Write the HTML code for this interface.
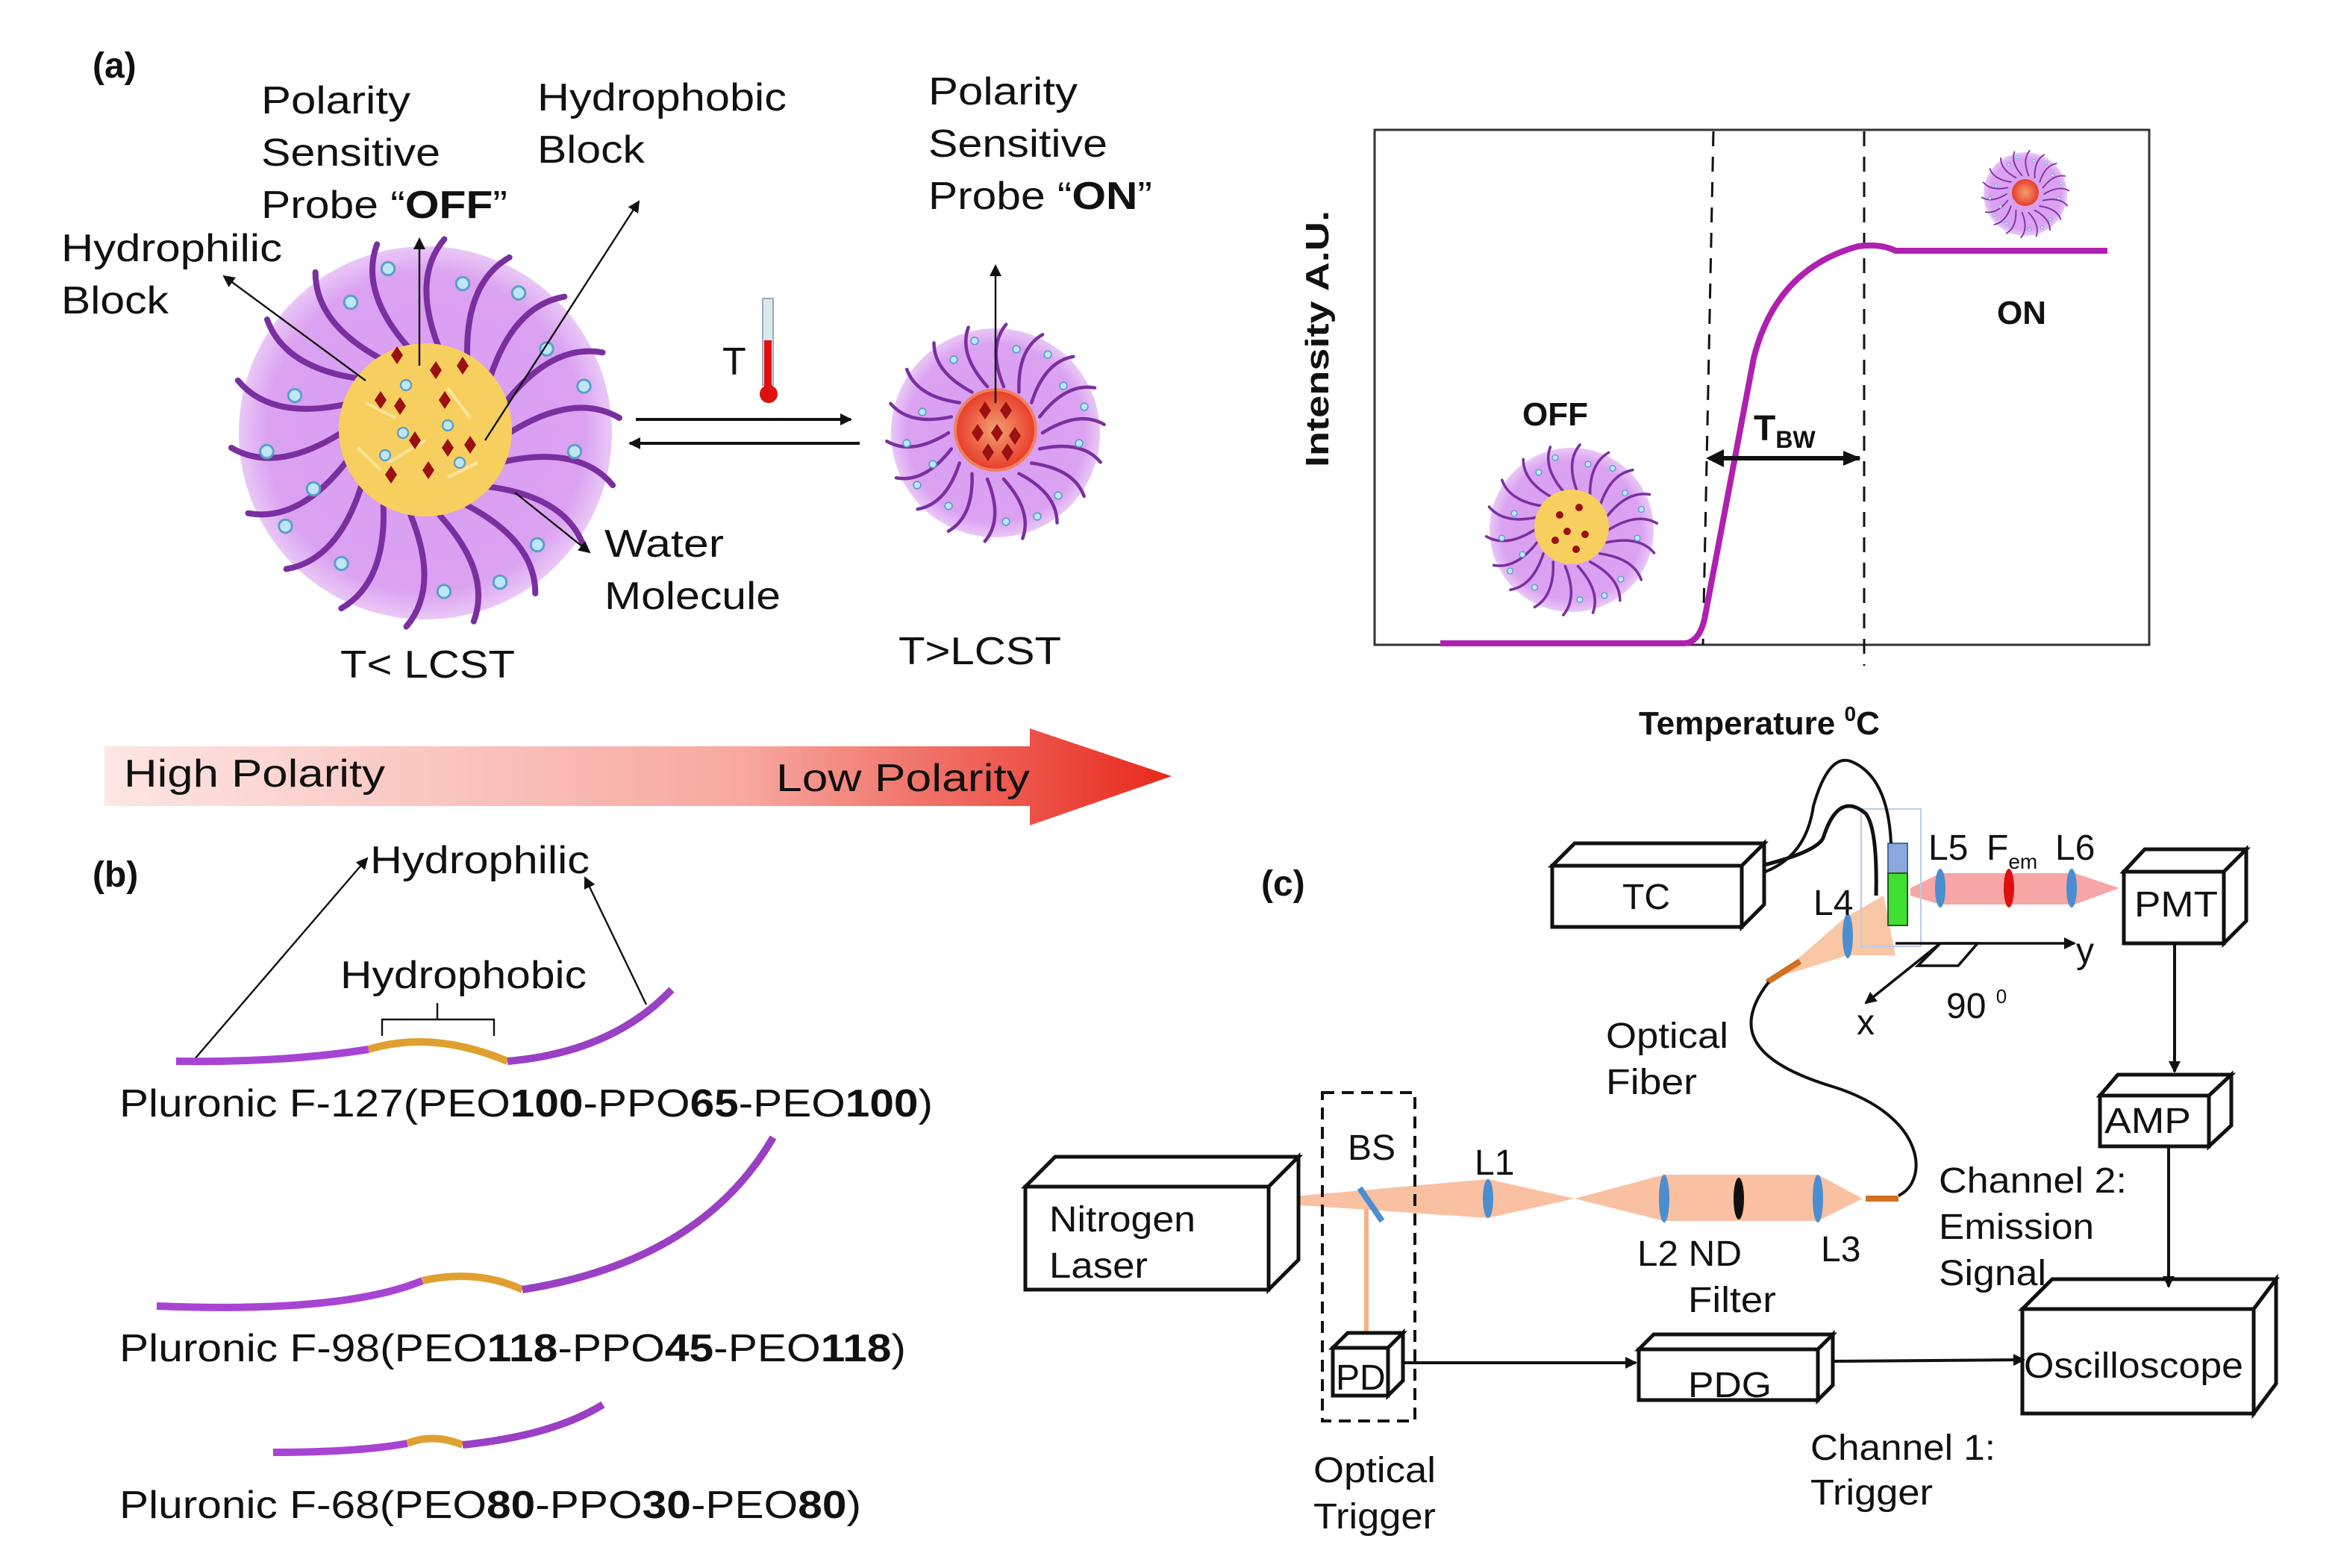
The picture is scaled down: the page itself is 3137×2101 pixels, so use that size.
<!DOCTYPE html>
<html><head><meta charset="utf-8"><style>
html,body{margin:0;padding:0;background:#fff}
svg{display:block}
text{font-family:"Liberation Sans",sans-serif;fill:#111}
</style></head><body>
<svg width="3137" height="2101" viewBox="0 0 1568.5 1050.5" xmlns="http://www.w3.org/2000/svg">
<defs>
<radialGradient id="pk"><stop offset="0" stop-color="#d99cf0"/><stop offset="0.85" stop-color="#dba2f2"/><stop offset="1" stop-color="#e9c8f6"/></radialGradient>
<radialGradient id="rc"><stop offset="0" stop-color="#f3a070"/><stop offset="1" stop-color="#e83c2a"/></radialGradient>
<linearGradient id="gr" x1="0" x2="1"><stop offset="0" stop-color="#fde6e4"/><stop offset="0.6" stop-color="#f7a8a0"/><stop offset="1" stop-color="#e8281c"/></linearGradient>
<marker id="ah" markerWidth="8" markerHeight="8" refX="7" refY="4" orient="auto" markerUnits="userSpaceOnUse"><path d="M0,0 L8,4 L0,8z" fill="#111"/></marker>
<marker id="ah2" markerWidth="12" markerHeight="10" refX="11" refY="5" orient="auto" markerUnits="userSpaceOnUse"><path d="M0,0 L12,5 L0,10z" fill="#111"/></marker>
<path id="st" d="M45,0 Q80,-22 104,-8" fill="none" stroke="#7a2fa0" stroke-width="3.2" stroke-linecap="round"/>
<g id="mic">
<circle r="100" fill="url(#pk)"/>
<g>
<use href="#st"/><use href="#st" transform="rotate(20)"/><use href="#st" transform="rotate(40)"/><use href="#st" transform="rotate(60)"/><use href="#st" transform="rotate(80)"/><use href="#st" transform="rotate(100)"/><use href="#st" transform="rotate(120)"/><use href="#st" transform="rotate(140)"/><use href="#st" transform="rotate(160)"/><use href="#st" transform="rotate(180)"/><use href="#st" transform="rotate(200)"/><use href="#st" transform="rotate(220)"/><use href="#st" transform="rotate(240)"/><use href="#st" transform="rotate(260)"/><use href="#st" transform="rotate(280)"/><use href="#st" transform="rotate(300)"/><use href="#st" transform="rotate(320)"/><use href="#st" transform="rotate(340)"/>
</g>
<g fill="#bfe6f5" stroke="#5aa0c8" stroke-width="1.2">
<circle cx="-70" cy="-20" r="3.5"/><circle cx="-60" cy="30" r="3.5"/><circle cx="-40" cy="-70" r="3.5"/><circle cx="20" cy="-80" r="3.5"/><circle cx="65" cy="-45" r="3.5"/><circle cx="80" cy="10" r="3.5"/><circle cx="60" cy="60" r="3.5"/><circle cx="10" cy="85" r="3.5"/><circle cx="-45" cy="70" r="3.5"/><circle cx="-85" cy="10" r="3.5"/><circle cx="-20" cy="-88" r="3.5"/><circle cx="40" cy="80" r="3.5"/><circle cx="-75" cy="50" r="3.5"/><circle cx="85" cy="-25" r="3.5"/><circle cx="50" cy="-75" r="3.5"/>
</g>
</g>
<g id="dia" fill="#9b1010"><path d="M0,-6 L4,0 L0,6 L-4,0z"/></g>
</defs>

<!-- (a) -->
<text x="62" y="52" font-size="24" font-weight="bold">(a)</text>
<g transform="translate(285,290) scale(1.25)"><use href="#mic"/></g>
<circle cx="285" cy="288" r="58" fill="#f7cf5e"/>
<g stroke="#fbe49a" stroke-width="2" fill="none"><path d="M245,270 l20,10 M260,310 l25,-15 M300,260 l15,20 M300,320 l20,-10 M240,300 l15,15"/></g>
<g fill="#bfe6f5" stroke="#5aa0c8" stroke-width="1.2"><circle cx="272" cy="258" r="3.5"/><circle cx="300" cy="285" r="3.5"/><circle cx="258" cy="305" r="3.5"/><circle cx="308" cy="310" r="3.5"/><circle cx="270" cy="290" r="3.5"/></g>
<g><use href="#dia" x="266" y="238"/><use href="#dia" x="292" y="248"/><use href="#dia" x="310" y="245"/><use href="#dia" x="255" y="268"/><use href="#dia" x="268" y="272"/><use href="#dia" x="298" y="268"/><use href="#dia" x="278" y="295"/><use href="#dia" x="300" y="300"/><use href="#dia" x="315" y="298"/><use href="#dia" x="262" y="318"/><use href="#dia" x="287" y="315"/></g>

<g transform="translate(667,290) scale(0.7)"><use href="#mic"/></g>
<circle cx="667" cy="288" r="27" fill="url(#rc)" stroke="#f08060" stroke-width="2"/>
<g><use href="#dia" x="660" y="275"/><use href="#dia" x="674" y="275"/><use href="#dia" x="655" y="290"/><use href="#dia" x="668" y="290"/><use href="#dia" x="680" y="292"/><use href="#dia" x="662" y="303"/><use href="#dia" x="675" y="303"/></g>

<g font-size="26">
<text x="175" y="76" textLength="100" lengthAdjust="spacingAndGlyphs">Polarity</text>
<text x="175" y="111" textLength="120" lengthAdjust="spacingAndGlyphs">Sensitive</text>
<text x="175" y="146" textLength="165" lengthAdjust="spacingAndGlyphs">Probe “<tspan font-weight="bold">OFF</tspan>”</text>
<text x="360" y="74" textLength="167" lengthAdjust="spacingAndGlyphs">Hydrophobic</text>
<text x="360" y="109" textLength="72" lengthAdjust="spacingAndGlyphs">Block</text>
<text x="41" y="175" textLength="148" lengthAdjust="spacingAndGlyphs">Hydrophilic</text>
<text x="41" y="210" textLength="72" lengthAdjust="spacingAndGlyphs">Block</text>
<text x="622" y="70" textLength="100" lengthAdjust="spacingAndGlyphs">Polarity</text>
<text x="622" y="105" textLength="120" lengthAdjust="spacingAndGlyphs">Sensitive</text>
<text x="622" y="140" textLength="150" lengthAdjust="spacingAndGlyphs">Probe “<tspan font-weight="bold">ON</tspan>”</text>
<text x="405" y="373" textLength="80" lengthAdjust="spacingAndGlyphs">Water</text>
<text x="405" y="408" textLength="118" lengthAdjust="spacingAndGlyphs">Molecule</text>
<text x="228" y="454" textLength="117" lengthAdjust="spacingAndGlyphs">T&lt; LCST</text>
<text x="602" y="445" textLength="109" lengthAdjust="spacingAndGlyphs">T&gt;LCST</text>
<text x="484" y="251">T</text>
</g>
<g stroke="#111" stroke-width="1.2" fill="none" marker-end="url(#ah)">
<line x1="281" y1="245" x2="281" y2="160"/>
<line x1="325" y1="295" x2="428" y2="135"/>
<line x1="245" y1="255" x2="150" y2="185"/>
<line x1="345" y1="330" x2="395" y2="370"/>
<line x1="667" y1="270" x2="667" y2="178"/>
</g>
<rect x="511" y="200" width="7" height="58" fill="#dce8f0" stroke="#9ab" stroke-width="1"/>
<rect x="512" y="228" width="5" height="32" fill="#e01010"/>
<circle cx="515" cy="264" r="6" fill="#e01010"/>
<g stroke="#111" stroke-width="2" fill="none">
<line x1="426" y1="281" x2="570" y2="281" marker-end="url(#ah)"/>
<line x1="576" y1="297" x2="422" y2="297" marker-end="url(#ah)"/>
</g>

<path d="M70,500 L690,500 L690,488 L785,520 L690,553 L690,540 L70,540z" fill="url(#gr)"/>
<text x="83" y="527" font-size="26" textLength="175" lengthAdjust="spacingAndGlyphs">High  Polarity</text>
<text x="520" y="530" font-size="26" textLength="170" lengthAdjust="spacingAndGlyphs">Low  Polarity</text>

<rect x="921" y="87" width="519" height="345" fill="none" stroke="#333" stroke-width="1.5"/>
<g stroke="#111" stroke-width="1.5" stroke-dasharray="10,7"><line x1="1148" y1="88" x2="1141" y2="432"/><line x1="1249" y1="88" x2="1249" y2="446"/></g>
<path d="M965,431 L1128,431 Q1138,431 1142,415 Q1158,330 1175,240 Q1190,180 1245,165 Q1260,163 1270,168 L1412,168" fill="none" stroke="#b020b0" stroke-width="4"/>
<line x1="1146" y1="307" x2="1246" y2="307" stroke="#111" stroke-width="3" marker-end="url(#ah2)"/>
<path d="M1143,307 l12,-6 v12z" fill="#111"/>
<text x="1175" y="295" font-size="24" font-weight="bold">T<tspan font-size="16" dy="5">BW</tspan></text>
<text x="1020" y="285" font-size="22" font-weight="bold">OFF</text>
<text x="1338" y="217" font-size="22" font-weight="bold">ON</text>
<text transform="translate(890,313) rotate(-90)" font-size="22" font-weight="bold" textLength="172" lengthAdjust="spacingAndGlyphs">Intensity  A.U.</text>
<text x="1098" y="492" font-size="22" font-weight="bold">Temperature <tspan font-size="14" dy="-9">0</tspan><tspan dy="9">C</tspan></text>
<g transform="translate(1053,355) scale(0.55)"><use href="#mic"/></g>
<circle cx="1053" cy="353" r="25" fill="#f7cf5e"/>
<g fill="#9b1010"><circle cx="1045" cy="345" r="2.5"/><circle cx="1058" cy="340" r="2.5"/><circle cx="1050" cy="356" r="2.5"/><circle cx="1062" cy="358" r="2.5"/><circle cx="1042" cy="362" r="2.5"/><circle cx="1056" cy="368" r="2.5"/></g>
<g transform="translate(1357,130) scale(0.28)"><use href="#mic"/></g>
<circle cx="1357" cy="129" r="9" fill="url(#rc)"/>

<text x="62" y="594" font-size="24" font-weight="bold">(b)</text>
<text x="248" y="585" font-size="26" textLength="147" lengthAdjust="spacingAndGlyphs">Hydrophilic</text>
<text x="228" y="662" font-size="26" textLength="165" lengthAdjust="spacingAndGlyphs">Hydrophobic</text>
<g stroke="#111" stroke-width="1.2" fill="none" marker-end="url(#ah)">
<line x1="130" y1="710" x2="246" y2="575"/>
<line x1="433" y1="673" x2="392" y2="588"/>
</g>
<path d="M256,694 L256,683 L331,683 L331,694 M293,683 L293,672" fill="none" stroke="#111" stroke-width="1.2"/>
<g fill="none" stroke-width="5" stroke-linecap="butt">
<path d="M118,711 Q190,712 247,703" stroke="#a844d4"/>
<path d="M247,703 Q290,690 340,711" stroke="#e0a030"/>
<path d="M340,711 Q410,705 450,663" stroke="#9a40c4"/>
<path d="M105,875 Q230,880 283,858" stroke="#a844d4"/>
<path d="M283,858 Q320,850 350,864" stroke="#e0a030"/>
<path d="M350,864 Q470,845 518,762" stroke="#9a40c4"/>
<path d="M183,973 Q240,973 273,967" stroke="#a844d4"/>
<path d="M273,967 Q290,960 310,968" stroke="#e0a030"/>
<path d="M310,968 Q370,962 404,941" stroke="#9a40c4"/>
</g>
<g font-size="26">
<text x="80" y="748" textLength="545" lengthAdjust="spacingAndGlyphs">Pluronic F-127(PEO<tspan font-weight="bold">100</tspan>-PPO<tspan font-weight="bold">65</tspan>-PEO<tspan font-weight="bold">100</tspan>)</text>
<text x="80" y="912" textLength="527" lengthAdjust="spacingAndGlyphs">Pluronic F-98(PEO<tspan font-weight="bold">118</tspan>-PPO<tspan font-weight="bold">45</tspan>-PEO<tspan font-weight="bold">118</tspan>)</text>
<text x="80" y="1017" textLength="497" lengthAdjust="spacingAndGlyphs">Pluronic F-68(PEO<tspan font-weight="bold">80</tspan>-PPO<tspan font-weight="bold">30</tspan>-PEO<tspan font-weight="bold">80</tspan>)</text>
</g>

<text x="845" y="600" font-size="24" font-weight="bold">(c)</text>
<path d="M850,803 L997,790 L1055,803 L997,816 L850,806z" fill="#f7b08a" opacity="0.8"/>
<path d="M1055,803 L1115,787 L1218,787 L1248,803 L1218,818 L1115,818z" fill="#f7b08a" opacity="0.8"/>
<rect x="914" y="810" width="3" height="95" fill="#f7b08a"/>
<path d="M1190,655 L1236,615 L1262,600 L1270,640 L1238,640z" fill="#f7b890" opacity="0.8"/>
<path d="M1280,595 L1300,585 L1390,585 L1420,595 L1390,606 L1300,606 L1280,600z" fill="#f48888" opacity="0.75"/>
<g fill="#4a8ecf"><ellipse cx="997" cy="803" rx="3.5" ry="13"/><ellipse cx="1115" cy="803" rx="3.5" ry="16"/><ellipse cx="1218" cy="803" rx="3.5" ry="16"/><ellipse cx="1238" cy="627" rx="3.5" ry="15"/><ellipse cx="1300" cy="595" rx="3.5" ry="13"/><ellipse cx="1388" cy="595" rx="3.5" ry="13"/></g>
<ellipse cx="1165" cy="803" rx="3.5" ry="14" fill="#111"/>
<ellipse cx="1346" cy="595" rx="3.5" ry="13" fill="#e01010"/>
<line x1="911" y1="796" x2="926" y2="818" stroke="#4a8ecf" stroke-width="4"/>
<line x1="1250" y1="803" x2="1272" y2="803" stroke="#d07020" stroke-width="4"/>
<line x1="1184" y1="658" x2="1206" y2="644" stroke="#d07020" stroke-width="4"/>
<path d="M1185,658 C1160,690 1175,712 1228,728 C1292,748 1292,792 1272,801" fill="none" stroke="#111" stroke-width="2"/>
<rect x="1247" y="542" width="40" height="92" fill="none" stroke="#b8cce8" stroke-width="1"/>
<rect x="1265" y="565" width="13" height="20" fill="#8aa8dc" stroke="#4a6aa0" stroke-width="1"/>
<rect x="1265" y="585" width="13" height="35" fill="#40e030" stroke="#2a5a20" stroke-width="1"/>
<path d="M1180,585 Q1210,575 1215,540 Q1225,505 1240,510 Q1265,520 1267,565" fill="none" stroke="#111" stroke-width="2"/>
<path d="M1180,580 Q1220,570 1222,560 Q1232,530 1250,545 Q1258,555 1257,600" fill="none" stroke="#111" stroke-width="2.5"/>
<g stroke="#111" stroke-width="1.8" fill="none">
<line x1="1270" y1="632" x2="1390" y2="632" marker-end="url(#ah)"/>
<line x1="1300" y1="632" x2="1250" y2="672" marker-end="url(#ah)"/>
<path d="M1300,632 L1325,632 L1312,647 L1285,647z"/>
</g>
<g font-size="24">
<text x="1391" y="645">y</text><text x="1244" y="693">x</text>
<text x="1304" y="682">90 <tspan font-size="13" dy="-10">0</tspan></text>
<text x="1292" y="576">L5</text><text x="1331" y="576">F<tspan font-size="14" dy="6">em</tspan></text><text x="1377" y="576">L6</text>
<text x="1215" y="613">L4</text>
<text x="1076" y="702" textLength="82" lengthAdjust="spacingAndGlyphs">Optical</text><text x="1076" y="733" textLength="61" lengthAdjust="spacingAndGlyphs">Fiber</text>
<text x="903" y="777">BS</text><text x="988" y="787">L1</text>
<text x="1097" y="848" textLength="70" lengthAdjust="spacingAndGlyphs">L2 ND</text><text x="1131" y="879" textLength="59" lengthAdjust="spacingAndGlyphs">Filter</text>
<text x="1220" y="845">L3</text>
<text x="1299" y="799" textLength="126" lengthAdjust="spacingAndGlyphs">Channel 2:</text><text x="1299" y="830" textLength="104" lengthAdjust="spacingAndGlyphs">Emission</text><text x="1299" y="861" textLength="72" lengthAdjust="spacingAndGlyphs">Signal</text>
<text x="880" y="993" textLength="82" lengthAdjust="spacingAndGlyphs">Optical</text><text x="880" y="1024" textLength="82" lengthAdjust="spacingAndGlyphs">Trigger</text>
<text x="1213" y="978" textLength="124" lengthAdjust="spacingAndGlyphs">Channel 1:</text><text x="1213" y="1008" textLength="82" lengthAdjust="spacingAndGlyphs">Trigger</text>
</g>
<g fill="#fff" stroke="#111" stroke-width="2.5">
<path d="M1040,580 L1055,565 L1182,565 L1167,580z M1167,580 L1182,565 L1182,606 L1167,621z"/><rect x="1040" y="580" width="127" height="41"/>
<path d="M1423,584 L1437,569 L1505,569 L1490,584z M1490,584 L1505,569 L1505,617 L1490,632z"/><rect x="1423" y="584" width="67" height="48"/>
<path d="M1407,734 L1419,720 L1495,720 L1480,734z M1480,734 L1495,720 L1495,754 L1480,768z"/><rect x="1407" y="734" width="73" height="34"/>
<path d="M1355,877 L1375,857 L1525,857 L1510,877z M1510,877 L1525,857 L1525,927 L1510,947z"/><rect x="1355" y="877" width="155" height="70"/>
<path d="M687,795 L707,775 L870,775 L850,795z M850,795 L870,775 L870,844 L850,864z"/><rect x="687" y="795" width="163" height="69"/>
<path d="M1098,904 L1108,894 L1228,894 L1218,904z M1218,904 L1228,894 L1228,928 L1218,938z"/><rect x="1098" y="904" width="120" height="34"/>
<path d="M893,903 L903,893 L940,893 L930,903z M930,903 L940,893 L940,925 L930,935z"/><rect x="893" y="903" width="37" height="32"/>
</g>
<rect x="886" y="732" width="62" height="220" fill="none" stroke="#111" stroke-width="2" stroke-dasharray="8,5"/>
<g font-size="24">
<text x="1087" y="609">TC</text><text x="1430" y="614" textLength="56" lengthAdjust="spacingAndGlyphs">PMT</text><text x="1410" y="759" textLength="58" lengthAdjust="spacingAndGlyphs">AMP</text>
<text x="1356" y="923" textLength="147" lengthAdjust="spacingAndGlyphs">Oscilloscope</text><text x="703" y="825" textLength="98" lengthAdjust="spacingAndGlyphs">Nitrogen</text><text x="703" y="856" textLength="66" lengthAdjust="spacingAndGlyphs">Laser</text>
<text x="1131" y="936" textLength="56" lengthAdjust="spacingAndGlyphs">PDG</text><text x="895" y="931">PD</text>
</g>
<g stroke="#111" stroke-width="2" fill="none">
<line x1="940" y1="913" x2="1096" y2="913" marker-end="url(#ah)"/>
<line x1="1228" y1="912" x2="1356" y2="911" marker-end="url(#ah)"/>
<line x1="1457" y1="632" x2="1457" y2="718" marker-end="url(#ah)"/>
<line x1="1453" y1="768" x2="1453" y2="862" marker-end="url(#ah)"/>
</g>
</svg>
</body></html>
